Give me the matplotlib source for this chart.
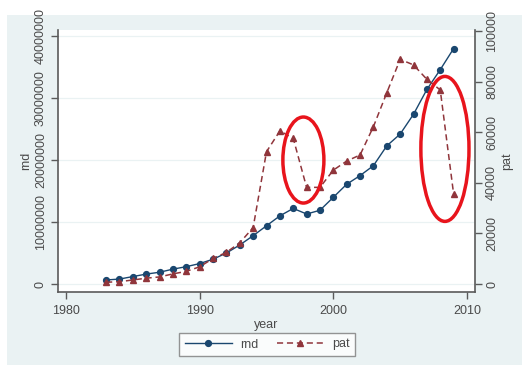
import matplotlib
matplotlib.use("Agg")
import matplotlib.pyplot as plt
from matplotlib.patches import Ellipse, Rectangle
from matplotlib.lines import Line2D
from matplotlib.ticker import FixedLocator


years = [1983, 1984, 1985, 1986, 1987, 1988, 1989, 1990, 1991, 1992,
         1993, 1994, 1995, 1996, 1997, 1998, 1999, 2000, 2001, 2002,
         2003, 2004, 2005, 2006, 2007, 2008, 2009]

rnd = [650000, 800000, 1200000, 1600000, 1900000, 2400000, 2800000,
       3300000, 4000000, 5000000, 6300000, 7800000, 9400000, 11000000,
       12200000, 11300000, 11900000, 14000000, 16100000, 17500000,
       19100000, 22300000, 24200000, 27400000, 31400000, 34600000,
       38000000]

pat = [700, 900, 1600, 2300, 2800, 4000, 5000, 6800, 10100, 12500,
       16300, 22300, 52300, 60500, 57600, 38200, 38200, 45000, 48600,
       51000, 62200, 75600, 88800, 86600, 80900, 76700, 35600]

x_ticks = [1980, 1990, 2000, 2010]
rnd_ticks = [0, 10000000, 20000000, 30000000, 40000000]
pat_ticks = [0, 20000, 40000, 60000, 80000, 100000]

NAVY = "#1a476f"
MAROON = "#90353b"
BG = "#eaf2f3"
AXIS = "#5a5a5a"
TEXT = "#4a4a4a"


def style_axis(ax):
    ax.tick_params(direction="out", length=5, width=1.0, color=AXIS,
                   labelcolor=TEXT, labelsize=9)
    for side in ax.spines.values():
        side.set_color(AXIS)
        side.set_linewidth(1.2)
    ax.spines["top"].set_visible(False)


def main():
    plt.rcParams["font.family"] = ["Liberation Sans", "DejaVu Sans"]

    fig = plt.figure(figsize=(5.22, 3.68), dpi=100, facecolor="white")
    # graph region fill, as in the s2color scheme
    fig.add_artist(Rectangle((7 / 522, 3 / 368), 1 - 7 / 522, 1 - 18 / 368,
                             transform=fig.transFigure, facecolor=BG,
                             edgecolor="none", zorder=0))

    ax1 = fig.add_axes([58 / 522, 1 - 292 / 368, 417 / 522, 262 / 368])
    ax1.set_facecolor("white")
    ax2 = ax1.twinx()

    ax1.plot(years, rnd, color=NAVY, lw=1.0, marker="o", ms=4.2,
             mec=NAVY, mfc=NAVY, zorder=3)
    ax2.plot(years, pat, color=MAROON, lw=1.1, ls=(0, (4, 2.5)), marker="^",
             ms=5, mec=MAROON, mfc=MAROON, zorder=3)

    ax1.set_xlim(1979.4, 2010.6)
    ax1.set_ylim(-1290000, 41000000)
    ax2.set_ylim(-3160, 100400)

    ax1.xaxis.set_major_locator(FixedLocator(x_ticks))
    ax1.yaxis.set_major_locator(FixedLocator(rnd_ticks))
    ax2.yaxis.set_major_locator(FixedLocator(pat_ticks))
    ax1.set_yticklabels([str(v) for v in rnd_ticks], rotation=90, va="center")
    ax2.set_yticklabels([str(v) for v in pat_ticks], rotation=90, va="center")

    style_axis(ax1)
    style_axis(ax2)
    ax1.spines["right"].set_visible(False)
    ax2.spines["left"].set_visible(False)
    ax2.spines["bottom"].set_visible(False)
    ax1.tick_params(axis="x", pad=4)
    ax1.tick_params(axis="y", pad=3)
    ax2.tick_params(axis="y", pad=3)

    for v in rnd_ticks:
        ax1.axhline(v, color=BG, lw=0.9, zorder=1)

    ax1.set_xlabel("year", fontsize=9, color=TEXT, labelpad=2)
    ax1.set_ylabel("rnd", fontsize=9, color=TEXT, labelpad=2)
    ax2.set_ylabel("pat", fontsize=9, color=TEXT, labelpad=2, rotation=90)

    # red rings around the two drops in pat
    for cx, cy, w, h in [(1997.76, 49000, 3.07, 34000),
                         (2008.35, 53400, 3.6, 57300)]:
        ax2.add_patch(Ellipse((cx, cy), w, h, fill=False, edgecolor="#e8141c",
                              lw=2.5, zorder=5, clip_on=False))

    handles = [
        Line2D([], [], color=NAVY, lw=1.0, marker="o", ms=4.2, mfc=NAVY, mec=NAVY),
        Line2D([], [], color=MAROON, lw=1.1, ls=(0, (4, 2.5)), marker="^",
               ms=5, mfc=MAROON, mec=MAROON),
    ]
    leg = fig.legend(handles, ["rnd", "pat"], loc="center",
                     bbox_to_anchor=(267 / 522, 1 - 344.5 / 368), ncol=2,
                     fontsize=9, frameon=True, fancybox=False,
                     edgecolor="#7a7a7a", handlelength=3.8, handletextpad=0.6,
                     columnspacing=1.5, borderpad=0.45, labelcolor=TEXT)
    leg.get_frame().set_linewidth(1.0)

    fig.savefig("out.png", dpi=100)


if __name__ == "__main__":
    main()
